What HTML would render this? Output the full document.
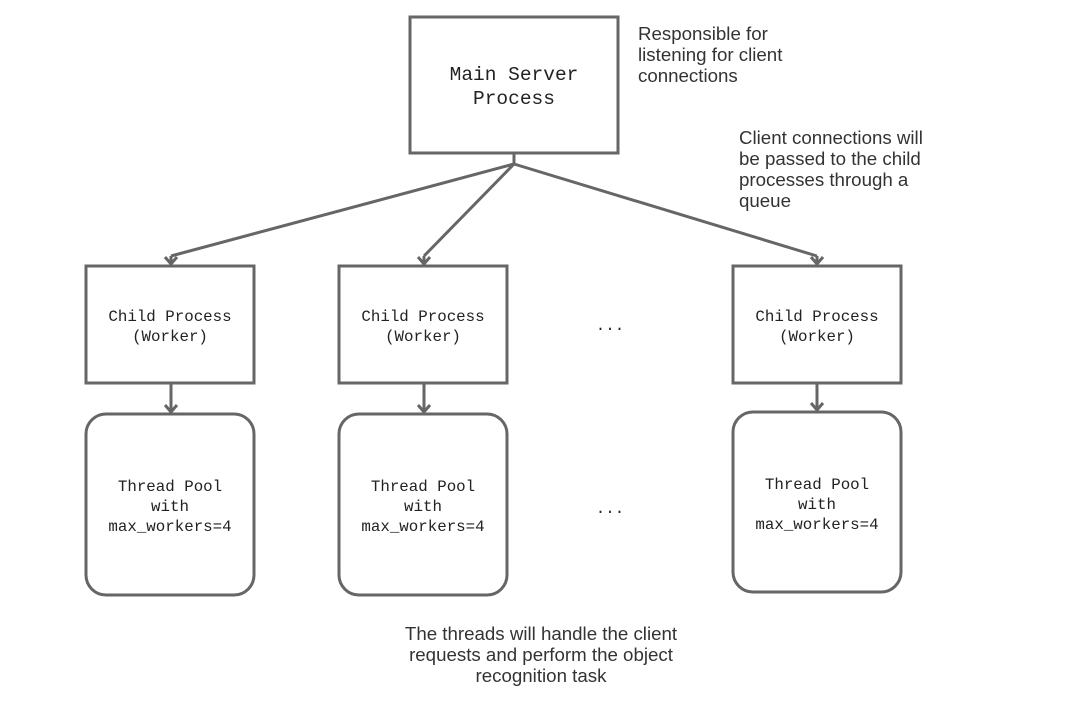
<!DOCTYPE html>
<html><head><style>
body{margin:0;background:#fff;width:1073px;height:711px;overflow:hidden}
svg text{font-family:"Liberation Mono",monospace;fill:#222}
.s{font-family:"Liberation Sans",sans-serif;font-size:18.7px;fill:#333}
</style></head><body>
<svg width="1073" height="711" viewBox="0 0 1073 711">
<g fill="none" stroke="#666" stroke-width="3">
<rect x="410" y="17" width="208" height="136"/>
<rect x="86" y="266" width="168" height="117"/>
<rect x="339" y="266" width="168" height="117"/>
<rect x="733" y="266" width="168" height="117"/>
<rect x="86" y="414" width="168" height="181" rx="20"/>
<rect x="339" y="414" width="168" height="181" rx="20"/>
<rect x="733" y="412" width="168" height="180" rx="20"/>
<path d="M514 153V164L171 256M514 164L424 256M514 164L817 256"/>
<path d="M171 256V264M424 256V264M817 256V264"/>
<path d="M165 257L171 264L177 257M418 257L424 264L430 257M811 257L817 264L823 257"/>
<path d="M171 383V412M424 383V412M817 383V410"/>
<path d="M165 405L171 412L177 405M418 405L424 412L430 405M811 403L817 410L823 403"/>
</g>
<g font-size="19.5" text-anchor="middle">
<text x="514" y="80">Main Server</text>
<text x="514" y="104">Process</text>
</g>
<g font-size="15.8" text-anchor="middle">
<text x="170" y="321">Child Process</text><text x="170" y="341">(Worker)</text>
<text x="423" y="321">Child Process</text><text x="423" y="341">(Worker)</text>
<text x="817" y="321">Child Process</text><text x="817" y="341">(Worker)</text>
<text x="170" y="491">Thread Pool</text><text x="170" y="511">with</text><text x="170" y="531">max_workers=4</text>
<text x="423" y="491">Thread Pool</text><text x="423" y="511">with</text><text x="423" y="531">max_workers=4</text>
<text x="817" y="489">Thread Pool</text><text x="817" y="509">with</text><text x="817" y="529">max_workers=4</text>
<text x="610" y="330">...</text>
<text x="610" y="513">...</text>
</g>
<text class="s" x="638" y="40">Responsible for</text>
<text class="s" x="638" y="61">listening for client</text>
<text class="s" x="638" y="82">connections</text>
<text class="s" x="739" y="144">Client connections will</text>
<text class="s" x="739" y="165">be passed to the child</text>
<text class="s" x="739" y="186">processes through a</text>
<text class="s" x="739" y="207">queue</text>
<g text-anchor="middle">
<text class="s" x="541" y="640">The threads will handle the client</text>
<text class="s" x="541" y="661">requests and perform the object</text>
<text class="s" x="541" y="682">recognition task</text>
</g>
</svg>
</body></html>
